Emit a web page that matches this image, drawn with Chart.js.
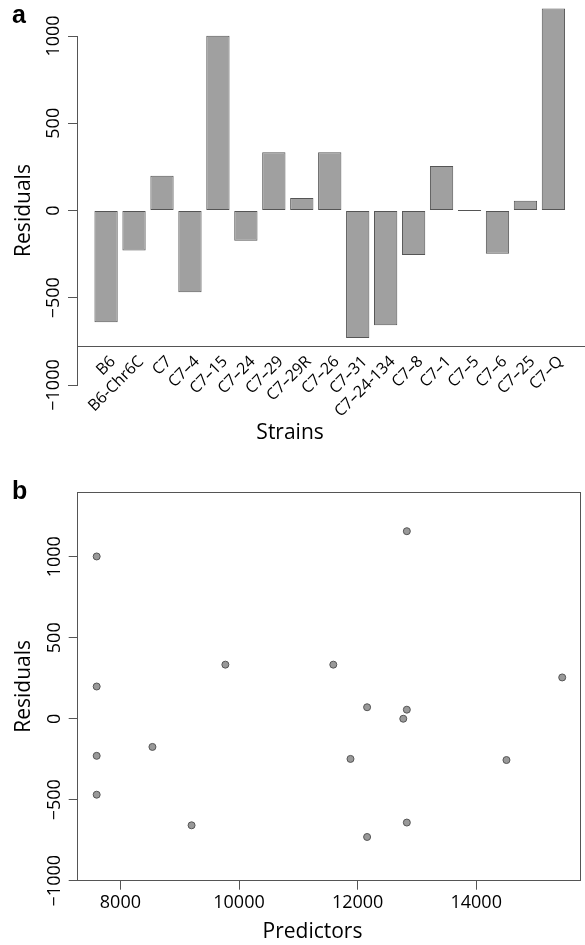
<!DOCTYPE html>
<html>
<head>
<meta charset="utf-8">
<script src="https://cdn.jsdelivr.net/npm/chart.js@4.4.1/dist/chart.umd.min.js"></script>
<style>
  html, body { margin: 0; padding: 0; background: #fff; }
  #wrapA { position: absolute; left: 0; top: 0; width: 585px; height: 445px; }
  #wrapB { position: absolute; left: 0; top: 450px; width: 585px; height: 495px; }
</style>
</head>
<body>
<div id="wrapA"><canvas id="barChart"></canvas></div>
<div id="wrapB"><canvas id="scatterChart"></canvas></div>
<script>
const strains = ["B6", "B6-Chr6C", "C7", "C7–4", "C7–15", "C7–24", "C7–29", "C7–29R", "C7–26",
  "C7–31", "C7–24-134", "C7–8", "C7–1", "C7–5", "C7–6", "C7–25", "C7–Q"];
const residuals = [-641, -229, 199, -469, 1002, -174, 334, 71, 334, -730, -658, -255, 255, 0, -248, 56, 1158];
const predictors = [12830, 7600, 7600, 7600, 7600, 8540, 9770, 12160, 11590, 12160, 9200, 14510, 15450, 12770, 11880, 12830, 12830];
const residualTicks = [-1000, -500, 0, 500, 1000];
const predictorTicks = [8000, 10000, 12000, 14000];

Chart.defaults.font.family = '"Open Sans", sans-serif';
Chart.defaults.color = "#000";

const AXIS = "#555";

function fmt(v) {
  return v < 0 ? "\u2212" + Math.abs(v) : String(v);
}

// axis titles sit left of the plot centre, trailing spaces shift them
function shifted(text, n) {
  return text + " ".repeat(n);
}

// bold panel letter in the top left corner
const panelLetter = {
  id: "panelLetter",
  afterDraw(chart, args, opts) {
    const ctx = chart.ctx;
    ctx.save();
    ctx.font = 'bold 25px "Liberation Sans", Arial, sans-serif';
    ctx.fillStyle = "#000";
    ctx.fillText(opts.text, opts.x, opts.y);
    ctx.restore();
  }
};

const residualAxis = {
  min: -1000,
  afterBuildTicks: (s) => { s.ticks = residualTicks.map((v) => ({ value: v })); },
  afterFit: (s) => { s.width = 77; },
  grid: { display: true, drawOnChartArea: false, tickLength: 9, color: AXIS },
  border: { display: true, color: AXIS },
  ticks: { minRotation: 90, maxRotation: 90, crossAlign: "center", padding: -12, font: { size: 18 }, callback: fmt },
  title: { display: true, text: "Residuals", font: { size: 21 }, padding: { top: 11, bottom: 0 } }
};

new Chart(document.getElementById("barChart"), {
  type: "bar",
  data: {
    datasets: [{
      data: strains.map((s, i) => ({ x: i, y: residuals[i] })),
      backgroundColor: "#a0a0a0",
      borderColor: AXIS,
      borderWidth: 1,
      borderSkipped: false,
      categoryPercentage: 1,
      barPercentage: 0.833,
      minBarLength: 1,
      clip: false
    }]
  },
  options: {
    responsive: true,
    maintainAspectRatio: false,
    animation: false,
    layout: { padding: { top: 36, bottom: 60, left: 0, right: 0 } },
    plugins: {
      legend: { display: false },
      tooltip: { enabled: false },
      panelLetter: { text: "a", x: 12, y: 23 }
    },
    scales: {
      x: {
        type: "linear",
        position: { y: -778 },
        offset: false,
        min: -1.04,
        max: 17.13,
        afterBuildTicks: (s) => { s.ticks = strains.map((_, i) => ({ value: i })); },
        grid: { display: false, drawTicks: false },
        border: { display: true, color: AXIS },
        ticks: { autoSkip: false, minRotation: 45, maxRotation: 45, padding: 6, labelOffset: 7,
          font: { size: 16 }, callback: (v) => strains[v] },
        title: { display: true, text: shifted("Strains", 15), font: { size: 21 }, padding: { top: -7, bottom: 0 } }
      },
      y: Object.assign({}, residualAxis, { max: 1000 })
    }
  },
  plugins: [panelLetter]
});

new Chart(document.getElementById("scatterChart"), {
  type: "scatter",
  data: {
    datasets: [{
      data: predictors.map((p, i) => ({ x: p, y: residuals[i] })),
      backgroundColor: "#999",
      borderColor: AXIS,
      borderWidth: 1,
      pointRadius: 3.5
    }]
  },
  options: {
    responsive: true,
    maintainAspectRatio: false,
    animation: false,
    layout: { padding: { top: 42, bottom: 0, left: 0, right: 0.7 } },
    plugins: {
      legend: { display: false },
      tooltip: { enabled: false },
      panelLetter: { text: "b", x: 12, y: 49 }
    },
    scales: {
      x: {
        type: "linear",
        position: "bottom",
        min: 7280,
        max: 15750,
        afterBuildTicks: (s) => { s.ticks = predictorTicks.map((v) => ({ value: v })); },
        afterFit: (s) => { s.height = 64.3; },
        grid: { display: true, drawOnChartArea: false, tickLength: 9, color: AXIS },
        border: { display: true, color: AXIS },
        ticks: { padding: 2, font: { size: 18 }, callback: fmt },
        title: { display: true, text: shifted("Predictors", 6), font: { size: 21 }, padding: { top: 0, bottom: 0 } }
      },
      y: Object.assign({}, residualAxis, { max: 1400, afterFit: (s) => { s.width = 77.7; } }),
      x2: {
        type: "linear",
        position: "top",
        grid: { display: false, drawTicks: false },
        ticks: { display: false },
        border: { display: true, color: AXIS },
        afterFit: (s) => { s.height = 0; }
      },
      y2: {
        type: "linear",
        position: "right",
        grid: { display: false, drawTicks: false },
        ticks: { display: false },
        border: { display: true, color: AXIS },
        afterFit: (s) => { s.width = 0; }
      }
    }
  },
  plugins: [panelLetter]
});
</script>
</body>
</html>
